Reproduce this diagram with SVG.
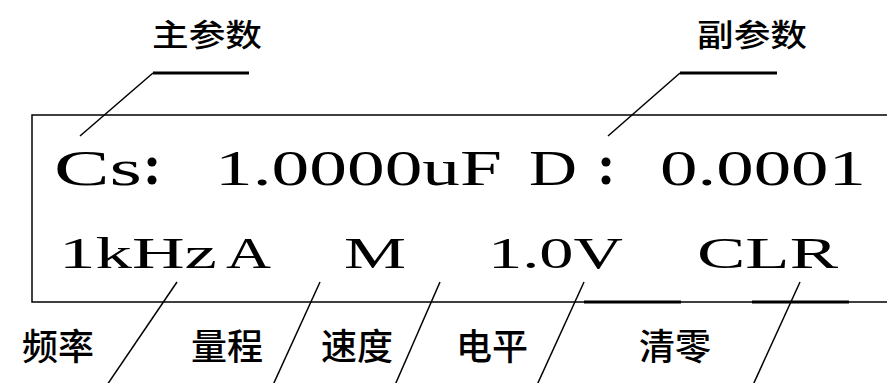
<svg xmlns="http://www.w3.org/2000/svg" width="887" height="383" viewBox="0 0 887 383">
<style>
.cjk{font-family:"Noto Sans CJK SC","Noto Sans CJK TC",sans-serif;font-weight:500;fill:#000}
.top{font-size:31px}
.bot{font-size:36px}
.lcd{font-family:"Liberation Serif","Times New Roman",serif;fill:#000}
.l1{font-size:50px}
.l2{font-size:44px}
.thin{stroke:#000;stroke-width:1.5;fill:none}
.thick{stroke:#000;stroke-width:3;fill:none}
</style>
<rect width="887" height="383" fill="#fff"/>
<g id="display">
<path class="thin" d="M895,115 H32 V302 H895"/>
<g id="line1">
<text class="lcd l1" x="54" y="185" textLength="88" lengthAdjust="spacingAndGlyphs">Cs</text>
<circle cx="152" cy="162" r="4.5"/>
<circle cx="152" cy="180" r="4.5"/>
<text class="lcd l1" x="215" y="185" textLength="287" lengthAdjust="spacingAndGlyphs">1.0000uF</text>
<text class="lcd l1" x="529" y="185" textLength="48" lengthAdjust="spacingAndGlyphs">D</text>
<circle cx="606" cy="162" r="4.5"/>
<circle cx="606" cy="180" r="4.5"/>
<text class="lcd l1" x="660" y="185" textLength="206" lengthAdjust="spacingAndGlyphs">0.0001</text>
</g>
<g id="line2">
<text class="lcd l2" x="59" y="268" textLength="158" lengthAdjust="spacingAndGlyphs">1kHz</text>
<text class="lcd l2" x="226" y="268" textLength="45" lengthAdjust="spacingAndGlyphs">A</text>
<text class="lcd l2" x="344" y="268" textLength="62" lengthAdjust="spacingAndGlyphs">M</text>
<text class="lcd l2" x="488" y="268" textLength="135" lengthAdjust="spacingAndGlyphs">1.0V</text>
<text class="lcd l2" x="697" y="268" textLength="141" lengthAdjust="spacingAndGlyphs">CLR</text>
</g>
</g>
<g id="label-main"><text class="cjk top" x="152" y="46" textLength="110" lengthAdjust="spacingAndGlyphs">主参数</text></g>
<g id="label-sub"><text class="cjk top" x="697" y="46" textLength="110" lengthAdjust="spacingAndGlyphs">副参数</text></g>
<g id="label-freq"><text class="cjk bot" x="22" y="360">频率</text></g>
<g id="label-range"><text class="cjk bot" x="191" y="360">量程</text></g>
<g id="label-speed"><text class="cjk bot" x="321" y="360">速度</text></g>
<g id="label-level"><text class="cjk bot" x="456" y="360">电平</text></g>
<g id="label-clear"><text class="cjk bot" x="639" y="360">清零</text></g>
<g id="connectors">
<path class="thick" d="M153,73 H249"/>
<path class="thin" d="M153,73 L80,136"/>
<path class="thick" d="M680,73 H777"/>
<path class="thin" d="M680,73 L608,136"/>
<path class="thin" d="M177,282 L107,385"/>
<path class="thin" d="M320,282 L273,385"/>
<path class="thin" d="M440,282 L395,385"/>
<path class="thin" d="M584,282 L537,385"/>
<path class="thin" d="M800,282 L753,385"/>
<path class="thick" d="M584,302 H681"/>
<path class="thick" d="M752,302 H849"/>
</g>
</svg>
